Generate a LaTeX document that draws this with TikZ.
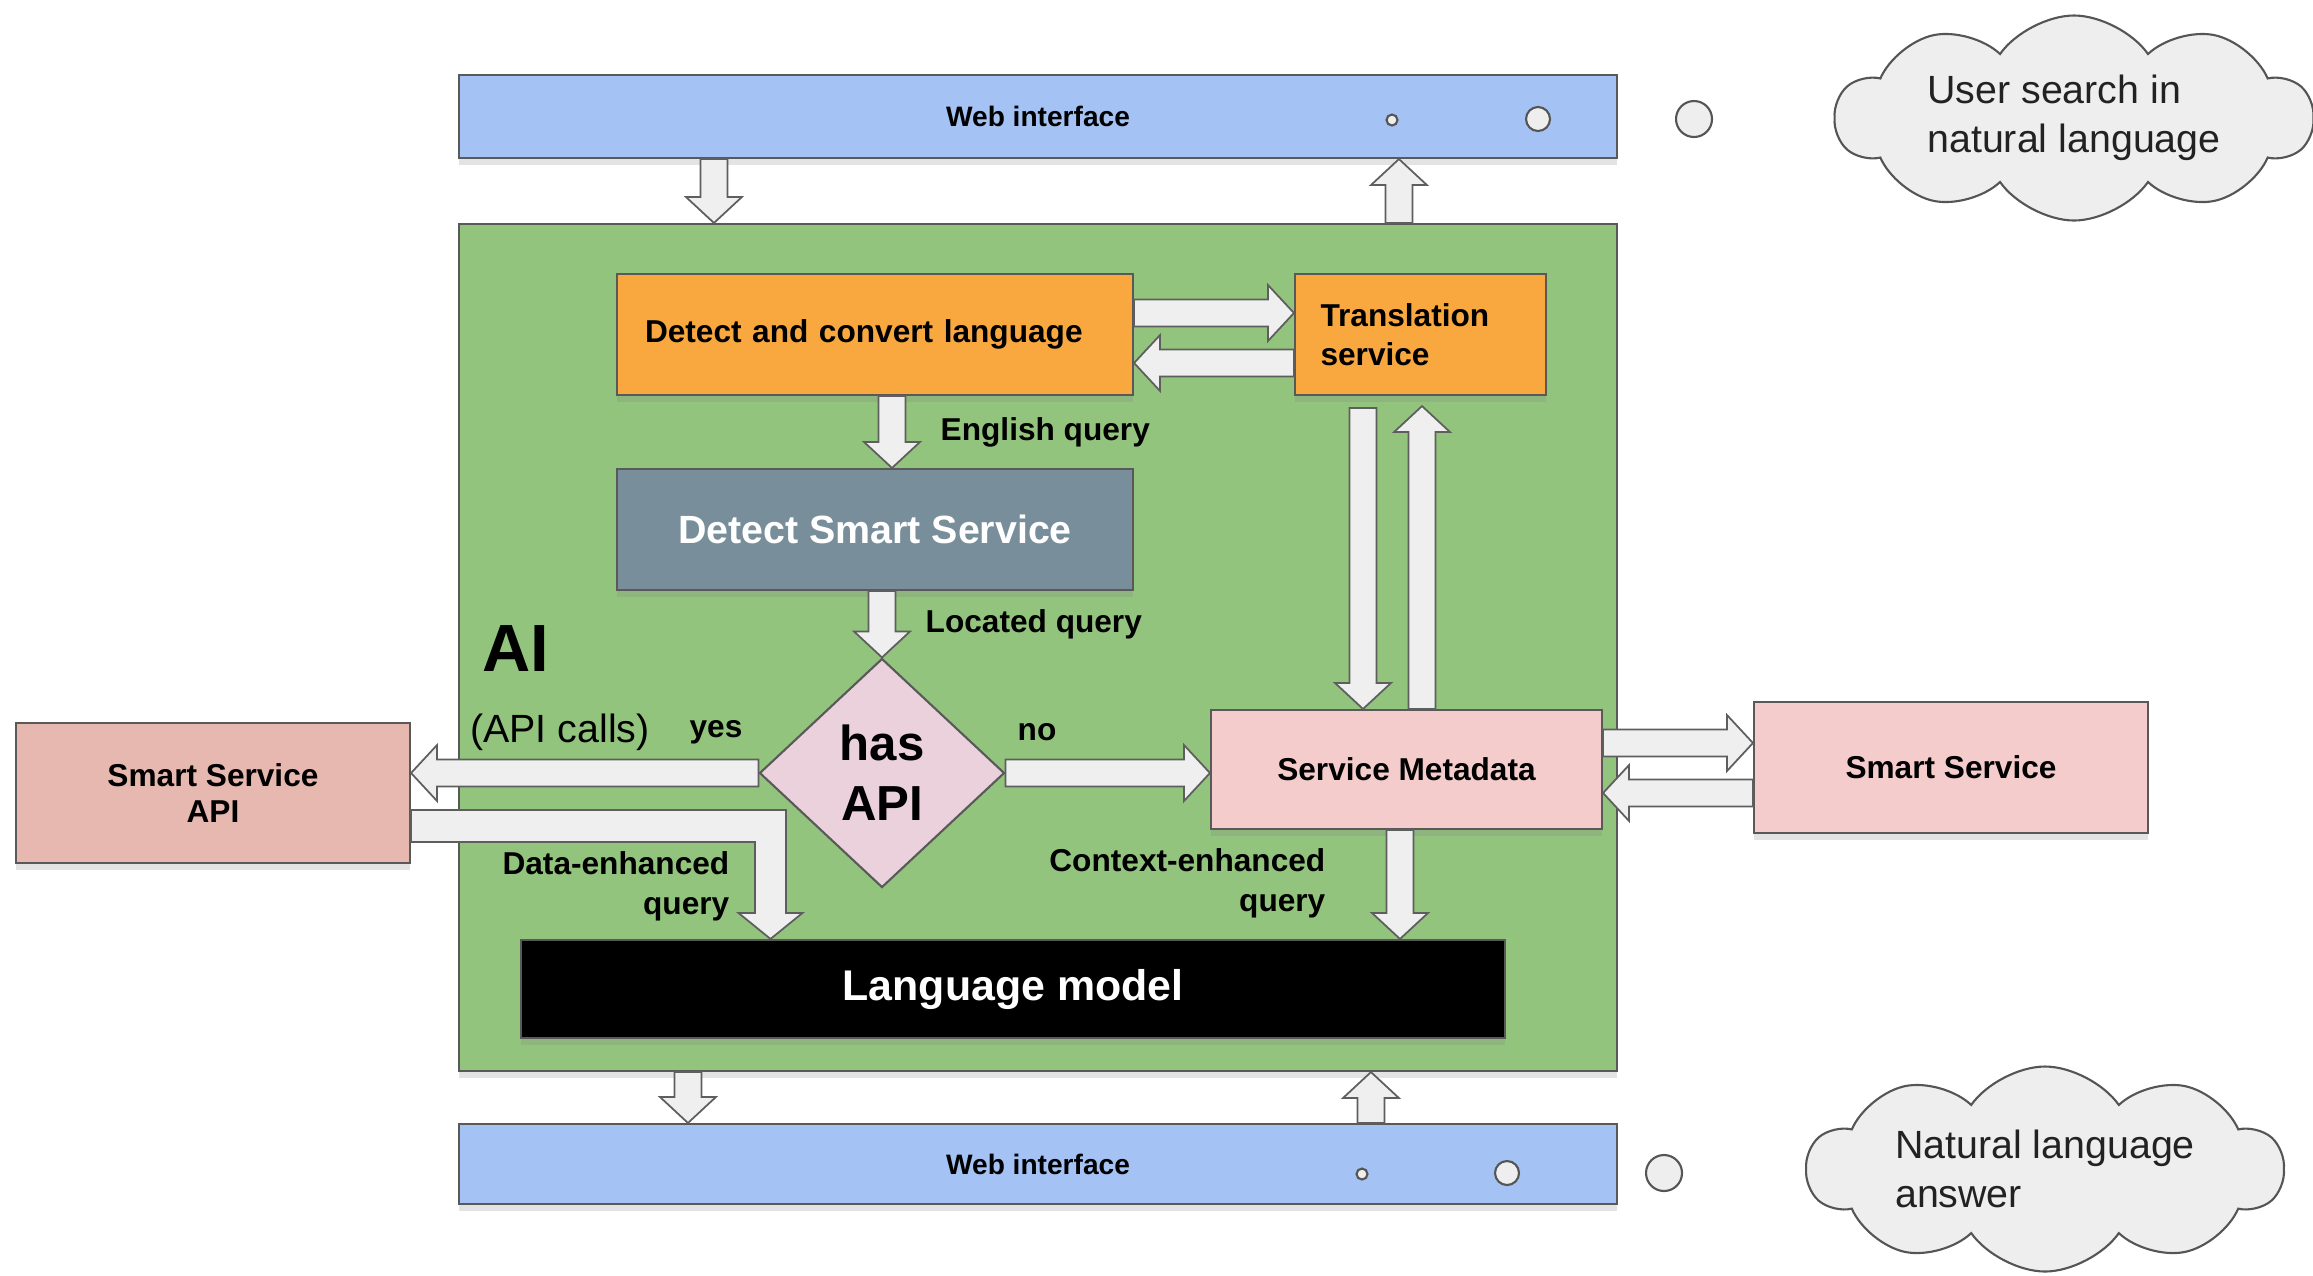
\documentclass[tikz,border=0pt]{standalone}
\usepackage{fontspec}
\setmainfont{Liberation Sans}
\usetikzlibrary{calc,shapes.geometric,shapes.symbols,shadows}

\definecolor{webblue}{HTML}{A4C2F4}
\definecolor{aigreen}{HTML}{93C47D}
\definecolor{langorange}{HTML}{F8A83E}
\definecolor{slate}{HTML}{788F9B}
\definecolor{diapink}{HTML}{EAD1DC}
\definecolor{apired}{HTML}{E6B8AF}
\definecolor{metapink}{HTML}{F4CCCC}
\definecolor{boxline}{HTML}{595959}
\definecolor{arrowline}{HTML}{5E5E5E}
\definecolor{arrowfill}{HTML}{EFEFEF}
\definecolor{bubblefill}{HTML}{EEEEEE}
\definecolor{bubbleline}{HTML}{555555}
\definecolor{textgray}{HTML}{222222}

\tikzset{
  box/.style={draw=boxline, line width=0.6pt, inner sep=0pt, align=center,
    font=\bfseries\fontsize{9}{11}\selectfont,
    drop shadow={opacity=0.22, shadow xshift=0pt, shadow yshift=-0.7mm}},
  lbl/.style={inner sep=0pt, font=\bfseries\fontsize{9}{11.4}\selectfont},
  fatbody/.style={draw=arrowline, fill=arrowfill, line width=0.5pt, line join=miter},
  fat/.style={fatbody, to path={
    let \p1=(\tikztostart), \p2=(\tikztotarget), \p3=($(\p2)!0.26cm!(\p1)$) in
    ($(\p1)!0.135cm!90:(\p2)$) -- ($(\p3)!0.135cm!90:(\p2)$) -- ($(\p3)!0.28cm!90:(\p2)$)
    -- (\p2) -- ($(\p3)!0.28cm!-90:(\p2)$) -- ($(\p3)!0.135cm!-90:(\p2)$)
    -- ($(\p1)!0.135cm!-90:(\p2)$) -- cycle}},
  bubble/.style={draw=bubbleline, fill=bubblefill, line width=0.6pt},
  thought/.style={cloud, cloud puffs=10, cloud puff arc=110, cloud ignores aspect,
    draw=bubbleline, fill=bubblefill, line width=0.6pt, align=left, inner sep=0pt,
    text=textgray, font=\fontsize{11.2}{14}\selectfont},
}

\begin{document}
\begin{tikzpicture}
  \useasboundingbox (0,0) rectangle (23.13,-12.75);

  % AI block and web interfaces
  \node[box, fill=aigreen, minimum width=11.58cm, minimum height=8.47cm] (ai) at (10.38,-6.475) {};
  \node[box, fill=webblue, minimum width=11.58cm, minimum height=0.83cm,
        font=\bfseries\fontsize{8}{10}\selectfont] (web1) at (10.38,-1.165) {Web interface};
  \node[box, fill=webblue, minimum width=11.58cm, minimum height=0.80cm,
        font=\bfseries\fontsize{8}{10}\selectfont] (web2) at (10.38,-11.64) {Web interface};

  % thought bubbles
  \draw[bubble] (13.92,-1.20) circle (0.055);
  \draw[bubble] (15.38,-1.19) circle (0.12);
  \draw[bubble] (16.94,-1.19) circle (0.18);
  \draw[bubble] (13.62,-11.74) circle (0.055);
  \draw[bubble] (15.07,-11.73) circle (0.12);
  \draw[bubble] (16.64,-11.73) circle (0.18);
  \node[thought, minimum width=4.77cm, minimum height=2.05cm] (ask) at (20.74,-1.18)
    {User search in\\natural language};
  \node[thought, minimum width=4.76cm, minimum height=2.05cm] (answer) at (20.45,-11.69)
    {Natural language\\answer};

  % inner boxes
  \node[box, fill=langorange, minimum width=5.16cm, minimum height=1.21cm,
        text width=4.6cm, align=left] (dcl) at (8.75,-3.345) {Detect and convert language};
  \node[box, fill=langorange, minimum width=2.51cm, minimum height=1.21cm,
        text width=2.0cm, align=left] (ts) at (14.205,-3.345) {Translation\\service};
  \node[box, fill=slate, minimum width=5.16cm, minimum height=1.21cm, text=white,
        font=\bfseries\fontsize{11.2}{13}\selectfont] (dss) at (8.75,-5.295) {Detect Smart Service};
  \node[diamond, draw=boxline, fill=diapink, line width=0.6pt, inner sep=0pt, aspect=1.07,
        minimum width=2.45cm, minimum height=2.29cm, align=center,
        font=\bfseries\fontsize{14}{17}\selectfont] (dia) at (8.82,-7.73) {has\\API};
  \node[box, fill=apired, minimum width=3.94cm, minimum height=1.40cm,
        font=\bfseries\fontsize{9}{10.5}\selectfont] (ssapi) at (2.13,-7.93) {Smart Service\\API};
  \node[box, fill=metapink, minimum width=3.91cm, minimum height=1.19cm] (sm) at (14.065,-7.695)
    {Service Metadata};
  \node[box, fill=metapink, minimum width=3.94cm, minimum height=1.31cm] (ss) at (19.51,-7.675)
    {Smart Service};
  \node[box, fill=black, minimum width=9.84cm, minimum height=0.98cm, text=white,
        font=\bfseries\fontsize{12.2}{14}\selectfont] (lm) at (10.13,-9.89) {Language model};

  % labels
  \node[inner sep=0pt, font=\bfseries\fontsize{19}{22}\selectfont] (ailbl) at (5.16,-6.49) {AI};
  \node[inner sep=0pt, font=\fontsize{11.2}{13}\selectfont] (calls) at (5.60,-7.32) {(API calls)};
  \node[lbl] (yes) at (7.16,-7.32) {yes};
  \node[lbl] (no) at (10.37,-7.32) {no};
  \node[lbl, anchor=west] (eng) at (9.40,-4.32) {English query};
  \node[lbl, anchor=west] (loc) at (9.25,-6.24) {Located query};
  \node[lbl, anchor=east, align=right] (dataq) at (7.30,-8.86) {Data-enhanced\\query};
  \node[lbl, anchor=east, align=right] (ctxq) at (13.26,-8.83) {Context-enhanced\\query};

  % arrows
  \draw[fat] ([xshift=2.56cm]web1.south west) to ([xshift=2.56cm]ai.north west);
  \draw[fat] ([xshift=9.41cm]ai.north west) to ([xshift=9.41cm]web1.south west);
  \draw[fat] ([xshift=2.30cm]ai.south west) to ([xshift=2.30cm]web2.north west);
  \draw[fat] ([xshift=9.13cm]web2.north west) to ([xshift=9.13cm]ai.south west);
  \draw[fat] ([yshift=0.215cm]dcl.east) to ([yshift=0.215cm]ts.west);
  \draw[fat] ([yshift=-0.285cm]ts.west) to ([yshift=-0.285cm]dcl.east);
  \draw[fat] ([xshift=0.17cm]dcl.south) to ([xshift=0.17cm]dss.north);
  \draw[fat] (dia.north |- dss.south) to (dia.north);
  \draw[fat] (dia.west) to (dia.west -| ssapi.east);
  \draw[fat] (dia.east) to (dia.east -| sm.west);
  \draw[fat] ($(ts.south)+(-0.575,-0.12)$) to ($(ts.south |- sm.north)+(-0.575,0)$);
  \draw[fat] ($(ts.south |- sm.north)+(0.015,0)$) to ($(ts.south)+(0.015,-0.10)$);
  \draw[fat] ([yshift=0.265cm]sm.east) to ([yshift=0.245cm]ss.west);
  \draw[fat] ([yshift=-0.255cm]ss.west) to ([yshift=-0.235cm]sm.east);
  \draw[fat] ($(sm.south)+(-0.065,0)$) to ($(sm.south |- lm.north)+(-0.065,0)$);

  % bent arrow from the API box
  \coordinate (dq) at (7.705,-8.26);
  \draw[fatbody] ($(ssapi.east |- dq)+(0,0.16)$) -- ($(dq)+(0.155,0.16)$)
    -- ($(dq |- lm.north)+(0.155,0.26)$) -- ($(dq |- lm.north)+(0.32,0.26)$) -- (dq |- lm.north)
    -- ($(dq |- lm.north)+(-0.32,0.26)$) -- ($(dq |- lm.north)+(-0.155,0.26)$)
    -- ($(dq)+(-0.155,-0.16)$) -- ($(ssapi.east |- dq)+(0,-0.16)$) -- cycle;
\end{tikzpicture}
\end{document}
